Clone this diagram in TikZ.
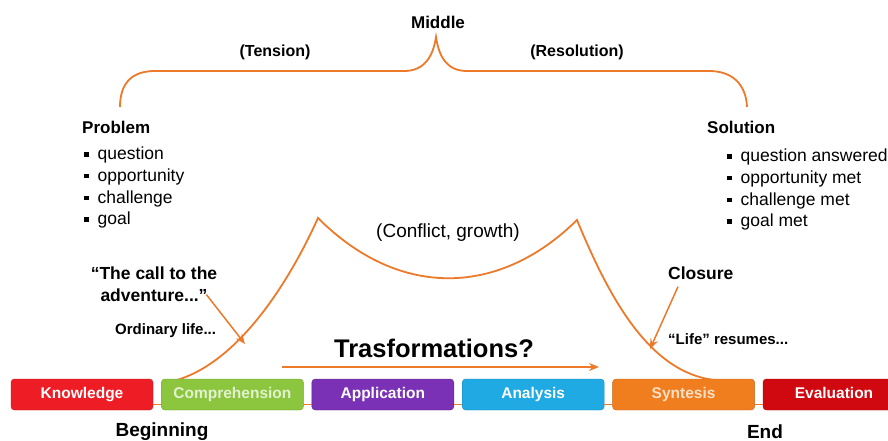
\documentclass[tikz,border=0pt]{standalone}
\usepackage{fontspec}
\setmainfont{Liberation Sans}
\usetikzlibrary{arrows.meta, positioning}
\definecolor{arcorange}{HTML}{EC7A2A}
\definecolor{knowred}{HTML}{EE1C24}
\definecolor{compgreen}{HTML}{8CC63E}
\definecolor{applpurple}{HTML}{7A31B5}
\definecolor{analblue}{HTML}{1FAAE4}
\definecolor{syntorange}{HTML}{F07E1E}
\definecolor{evalred}{HTML}{D0080F}
\newcommand{\sqbul}{\raisebox{3pt}{\rule{4.5pt}{4.5pt}}\hspace{9pt}}
\tikzset{
    arc/.style={draw=arcorange, line width=1.8pt},
    pointer/.style={draw=arcorange, line width=1.5pt, -{Stealth[length=10pt, width=8pt]}},
    link/.style={draw=arcorange, line width=1pt},
    head/.style={inner sep=0pt, font=\fontsize{17}{21}\selectfont\bfseries},
    note/.style={inner sep=0pt, font=\fontsize{15}{18}\selectfont\bfseries},
    items/.style={inner sep=0pt, align=left, font=\fontsize{17.5}{21.6}\selectfont},
    stage/.style={rectangle, rounded corners=3.5pt, minimum width=142pt, minimum height=31pt, inner sep=0pt,
        fill=#1, draw=#1!80!black, text height=11.5pt, text depth=3pt,
        text=white, font=\fontsize{15.5}{18}\selectfont\bfseries},
}

\begin{document}
\begin{tikzpicture}[x=1pt, y=-1pt]
    \useasboundingbox (0,0) rectangle (888,441);

    % middle brace
    \node[head] (middle) at (438,22) {Middle};
    \node[head, font=\fontsize{16}{20}\selectfont\bfseries] (tension) at (275,52) {(Tension)};
    \node[head, font=\fontsize{16}{20}\selectfont\bfseries] (resol) at (577,52) {(Resolution)};
    \draw[arc] (120,107) .. controls (120,82) and (133,71) .. (155,71) -- (404,71)
        .. controls (424,71) and (433,57) .. (436,37)
        .. controls (439,57) and (447,71) .. (467,71) -- (709,71)
        .. controls (732,71) and (746,84) .. (747,107);

    % problem / solution
    \node[head, anchor=west] (prob) at (82,127) {Problem};
    \node[items, anchor=north west] (problist) at (84,147)
        {\sqbul question\\ \sqbul opportunity\\ \sqbul challenge\\ \sqbul goal};
    \node[head, anchor=west] (sol) at (707,127) {Solution};
    \node[items, anchor=north west] (sollist) at (727,149)
        {\sqbul question answered\\ \sqbul opportunity met\\ \sqbul challenge met\\ \sqbul goal met};

    % story arc
    \coordinate (rise) at (177,380);
    \coordinate (peakl) at (318,218);
    \coordinate (peakr) at (577,220);
    \coordinate (fall) at (714,380);
    \draw[arc] (rise) .. controls (240,361) and (290,280) .. (peakl)
        .. controls (400,300) and (500,296) .. (peakr)
        .. controls (610,300) and (650,372) .. (fall);
    \node[inner sep=0pt, font=\fontsize{19}{22}\selectfont] (conflict) at (448,233) {(Conflict, growth)};

    % left labels
    \node[head, align=center, font=\fontsize{17.5}{22}\selectfont\bfseries] (call) at (154,284)
        {``The call to the\\ adventure...''};
    \node[note, anchor=west] (ordinary) at (115,331) {Ordinary life...};
    \coordinate (hookl) at (245,344);
    \draw[pointer] ([xshift=-11pt, yshift=7pt]call.south east) -- (hookl);

    % right labels
    \node[head, anchor=west, font=\fontsize{17.5}{21}\selectfont\bfseries] (closure) at (668,273) {Closure};
    \node[note, anchor=west] (resumes) at (668,339) {``Life'' resumes...};
    \coordinate (hookr) at (650,349);
    \draw[pointer] ([xshift=10pt, yshift=-7pt]closure.south west) -- (hookr);

    % transformation
    \node[inner sep=0pt, font=\fontsize{25.5}{28}\selectfont\bfseries] (trans) at (434,348) {Trasformations?};
    \coordinate (tfrom) at (282,367);
    \coordinate (tto) at (599,367);
    \draw[pointer] (tfrom) -- (tto);

    % bloom stages
    \node[stage=knowred] (know) at (82,394.5) {Knowledge};
    \node[stage=compgreen, text=compgreen!25!white, right=8pt of know] (comp) {Comprehension};
    \node[stage=applpurple, right=8pt of comp] (appl) {Application};
    \node[stage=analblue, right=8pt of appl] (anal) {Analysis};
    \node[stage=syntorange, text=syntorange!25!white, right=8pt of anal] (synt) {Syntesis};
    \node[stage=evalred, right=8pt of synt] (eval) {Evaluation};
    \draw[link] ([yshift=6pt]know.south east) -- ([yshift=6pt]comp.south west);
    \draw[link] ([yshift=6pt]comp.south east) -- ([yshift=6pt]appl.south west);
    \draw[link] ([yshift=6pt]appl.south east) -- ([yshift=6pt]anal.south west);
    \draw[link] ([yshift=6pt]anal.south east) -- ([yshift=6pt]synt.south west);
    \draw[link] ([yshift=6pt]synt.south east) -- ([yshift=6pt]eval.south west);

    \node[head, font=\fontsize{19}{22}\selectfont\bfseries] (begin) at (162,432) {Beginning};
    \node[head, font=\fontsize{19}{22}\selectfont\bfseries] (end) at (765,432) {End};
\end{tikzpicture}
\end{document}
